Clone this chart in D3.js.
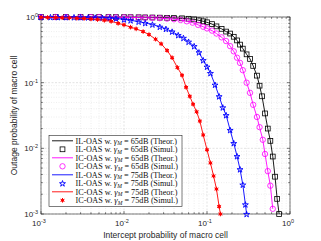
<!DOCTYPE html>
<html>
<head>
<meta charset="utf-8">
<script src="https://cdn.jsdelivr.net/npm/d3@7"></script>
<style>
  body { margin: 0; background: #fff; }
  svg { display: block; }
</style>
</head>
<body>
<div id="chart"></div>
<script>
// values (log-log axes)
var ilx65 = [0.001, 0.0015, 0.002, 0.003, 0.004, 0.005, 0.0065, 0.008, 0.01, 0.012, 0.015, 0.018, 0.022, 0.027, 0.033, 0.04, 0.05, 0.06, 0.07, 0.08, 0.09, 0.1, 0.115, 0.13, 0.15, 0.17, 0.19, 0.21, 0.23, 0.25, 0.27, 0.3, 0.33, 0.36, 0.4, 0.43, 0.46, 0.5, 0.54, 0.58, 0.62, 0.66, 0.7, 0.74];
var ily65 = [1, 1, 0.999, 0.999, 0.998, 0.998, 0.997, 0.996, 0.995, 0.993, 0.99, 0.987, 0.983, 0.978, 0.972, 0.965, 0.955, 0.94, 0.92, 0.89, 0.86, 0.83, 0.78, 0.72, 0.66, 0.6, 0.56, 0.5, 0.44, 0.38, 0.33, 0.27, 0.23, 0.18, 0.128, 0.09, 0.062, 0.034, 0.02, 0.013, 0.0075, 0.0037, 0.0017, 0.001];

var icx65 = [0.001, 0.0015, 0.002, 0.003, 0.004, 0.005, 0.0065, 0.008, 0.01, 0.012, 0.015, 0.018, 0.022, 0.027, 0.033, 0.04, 0.048, 0.057, 0.067, 0.078, 0.09, 0.1, 0.115, 0.13, 0.15, 0.17, 0.19, 0.21, 0.23, 0.25, 0.27, 0.3, 0.33, 0.36, 0.4, 0.43, 0.47, 0.5, 0.54, 0.58, 0.62];
var icy65 = [0.999, 0.999, 0.998, 0.997, 0.996, 0.995, 0.993, 0.99, 0.988, 0.985, 0.98, 0.975, 0.97, 0.96, 0.945, 0.925, 0.9, 0.86, 0.82, 0.76, 0.71, 0.67, 0.62, 0.56, 0.49, 0.43, 0.36, 0.3, 0.24, 0.2, 0.155, 0.1, 0.07, 0.046, 0.03, 0.021, 0.0135, 0.0082, 0.0045, 0.0027, 0.0012];

var ilx75 = [0.001, 0.0013, 0.0016, 0.002, 0.0025, 0.003, 0.0037, 0.0045, 0.0055, 0.0067, 0.008, 0.01, 0.012, 0.015, 0.018, 0.022, 0.027, 0.032, 0.038, 0.045, 0.052, 0.06, 0.07, 0.08, 0.09, 0.1, 0.11, 0.125, 0.14, 0.155, 0.17, 0.19, 0.21, 0.23, 0.25, 0.27, 0.29, 0.3];
var ily75 = [0.998, 0.997, 0.996, 0.995, 0.993, 0.99, 0.985, 0.98, 0.972, 0.962, 0.95, 0.92, 0.89, 0.85, 0.81, 0.77, 0.71, 0.66, 0.6, 0.53, 0.48, 0.42, 0.36, 0.29, 0.22, 0.175, 0.14, 0.093, 0.062, 0.042, 0.032, 0.019, 0.012, 0.0076, 0.0048, 0.0028, 0.0014, 0.001];

var icx75 = [0.001, 0.0012, 0.0015, 0.0018, 0.0022, 0.0027, 0.0033, 0.004, 0.0048, 0.0058, 0.007, 0.0085, 0.01, 0.012, 0.014, 0.017, 0.02, 0.024, 0.028, 0.033, 0.038, 0.044, 0.05, 0.056, 0.062, 0.068, 0.075, 0.082, 0.09, 0.1, 0.11, 0.12, 0.13, 0.14, 0.145];
var icy75 = [0.99, 0.985, 0.98, 0.975, 0.97, 0.96, 0.95, 0.935, 0.915, 0.89, 0.86, 0.8, 0.76, 0.7, 0.66, 0.6, 0.54, 0.46, 0.39, 0.31, 0.24, 0.17, 0.13, 0.085, 0.062, 0.047, 0.036, 0.026, 0.016, 0.0095, 0.006, 0.0038, 0.0024, 0.0013, 0.001];

var decades = [-3, -2, -1, 0];
var legendText = ["IL-OAS w. ", "IL-OAS w. ", "IC-OAS w. ", "IC-OAS w. ", "IL-OAS w. ", "IL-OAS w. ", "IC-OAS w. ", "IC-OAS w. "];
var legendDb = ["65dB (Theor.)", "65dB (Simul.)", "65dB (Theor.)", "65dB (Simul.)", "75dB (Theor.)", "75dB (Simul.)", "75dB (Theor.)", "75dB (Simul.)"];

function pairs(xs, ys) {
    return xs.map(function (d, i) { return { x: d, y: ys[i] }; });
}

var series = [
    { data: pairs(ilx65, ily65), color: "#000000", marker: "square" },
    { data: pairs(icx65, icy65), color: "#ff00ff", marker: "circle" },
    { data: pairs(ilx75, ily75), color: "#0000ff", marker: "star" },
    { data: pairs(icx75, icy75), color: "#ff0000", marker: "asterisk" }
];

var width = 321, height = 241;
var margin = { top: 17, right: 31, bottom: 27, left: 41 };

var svg = d3.select("#chart").append("svg")
    .attr("width", width)
    .attr("height", height);

var x = d3.scaleLog().domain([1e-3, 1]).range([margin.left, width - margin.right]);
var y = d3.scaleLog().domain([1e-3, 1]).range([height - margin.bottom, margin.top]);

var minor = [];
decades.slice(0, 3).forEach(function (e) {
    for (var k = 2; k <= 9; k++) minor.push(k * Math.pow(10, e));
});
var major = decades.map(function (e) { return Math.pow(10, e); });

var grid = svg.append("g");
grid.selectAll(".vminor").data(minor).enter().append("line")
    .attr("x1", function (d) { return x(d); }).attr("x2", function (d) { return x(d); })
    .attr("y1", y(1e-3)).attr("y2", y(1))
    .attr("stroke", "#dcdcdc").attr("stroke-width", 0.5).attr("stroke-dasharray", "1,1.5");
grid.selectAll(".hminor").data(minor).enter().append("line")
    .attr("y1", function (d) { return y(d); }).attr("y2", function (d) { return y(d); })
    .attr("x1", x(1e-3)).attr("x2", x(1))
    .attr("stroke", "#dcdcdc").attr("stroke-width", 0.5).attr("stroke-dasharray", "1,1.5");
grid.selectAll(".vmajor").data(major).enter().append("line")
    .attr("x1", function (d) { return x(d); }).attr("x2", function (d) { return x(d); })
    .attr("y1", y(1e-3)).attr("y2", y(1))
    .attr("stroke", "#d0d0d0").attr("stroke-width", 0.6).attr("stroke-dasharray", "2,1.5");
grid.selectAll(".hmajor").data(major).enter().append("line")
    .attr("y1", function (d) { return y(d); }).attr("y2", function (d) { return y(d); })
    .attr("x1", x(1e-3)).attr("x2", x(1))
    .attr("stroke", "#d0d0d0").attr("stroke-width", 0.6).attr("stroke-dasharray", "2,1.5");

// box and inward ticks
var axisColor = "#262626";
var tk = svg.append("g").attr("stroke", axisColor).attr("stroke-width", 0.6);
major.concat(minor).forEach(function (d) {
    var len = major.indexOf(d) >= 0 ? 3 : 1.8;
    tk.append("line").attr("x1", x(d)).attr("x2", x(d)).attr("y1", y(1e-3)).attr("y2", y(1e-3) - len);
    tk.append("line").attr("x1", x(d)).attr("x2", x(d)).attr("y1", y(1)).attr("y2", y(1) + len);
    tk.append("line").attr("y1", y(d)).attr("y2", y(d)).attr("x1", x(1e-3)).attr("x2", x(1e-3) + len);
    tk.append("line").attr("y1", y(d)).attr("y2", y(d)).attr("x1", x(1)).attr("x2", x(1) - len);
});
svg.append("rect")
    .attr("x", x(1e-3)).attr("y", y(1))
    .attr("width", x(1) - x(1e-3)).attr("height", y(1e-3) - y(1))
    .attr("fill", "none").attr("stroke", axisColor).attr("stroke-width", 0.6);

// tick labels
var tl = svg.append("g").attr("font-family", "Liberation Sans, Arial, sans-serif").attr("fill", axisColor);
decades.forEach(function (e) {
    var t = tl.append("text").attr("x", x(Math.pow(10, e)) - 2).attr("y", y(1e-3) + 12)
        .attr("text-anchor", "middle").attr("font-size", 8);
    t.append("tspan").text("10");
    t.append("tspan").attr("dy", -3).attr("font-size", 5.5).text(e);
    var u = tl.append("text").attr("x", x(1e-3) - 3).attr("y", y(Math.pow(10, e)) + 3)
        .attr("text-anchor", "end").attr("font-size", 8);
    u.append("tspan").text("10");
    u.append("tspan").attr("dy", -3).attr("font-size", 5.5).text(e);
});

svg.append("text")
    .attr("x", (x(1e-3) + x(1)) / 2).attr("y", 238)
    .attr("text-anchor", "middle")
    .attr("font-family", "Liberation Sans, Arial, sans-serif").attr("font-size", 8.5)
    .attr("fill", axisColor)
    .text("Intercept probability of macro cell");
svg.append("text")
    .attr("transform", "translate(17," + ((y(1) + y(1e-3)) / 2) + ") rotate(-90)")
    .attr("text-anchor", "middle")
    .attr("font-family", "Liberation Sans, Arial, sans-serif").attr("font-size", 8.5)
    .attr("fill", axisColor)
    .text("Outage probability of macro cell");

var line = d3.line()
    .x(function (d) { return x(d.x); })
    .y(function (d) { return y(d.y); });

function drawMarker(g, type, color, cx, cy) {
    if (type === "square") {
        g.append("rect").attr("x", cx - 2.4).attr("y", cy - 2.4).attr("width", 4.8).attr("height", 4.8)
            .attr("fill", "none").attr("stroke", color).attr("stroke-width", 0.8);
    } else if (type === "circle") {
        g.append("circle").attr("cx", cx).attr("cy", cy).attr("r", 2.7)
            .attr("fill", "none").attr("stroke", color).attr("stroke-width", 0.8);
    } else if (type === "star") {
        g.append("path").attr("d", d3.symbol().type(d3.symbolStar).size(11)())
            .attr("transform", "translate(" + cx + "," + (cy + 0.4) + ")")
            .attr("fill", "none").attr("stroke", color).attr("stroke-width", 0.9);
    } else {
        g.append("circle").attr("cx", cx).attr("cy", cy).attr("r", 1.5).attr("fill", color);
        [0, 60, 120].forEach(function (a) {
            var r = a * Math.PI / 180, l = 2.3;
            g.append("line")
                .attr("x1", cx - l * Math.sin(r)).attr("y1", cy - l * Math.cos(r))
                .attr("x2", cx + l * Math.sin(r)).attr("y2", cy + l * Math.cos(r))
                .attr("stroke", color).attr("stroke-width", 1);
        });
    }
}

series.forEach(function (s) {
    svg.append("path")
        .datum(s.data)
        .attr("fill", "none")
        .attr("stroke", s.color)
        .attr("stroke-width", 0.9)
        .attr("d", line);
    var g = svg.append("g");
    s.data.forEach(function (d) {
        drawMarker(g, s.marker, s.color, x(d.x), y(d.y));
    });
});

// legend
var lg = svg.append("g");
lg.append("rect").attr("x", 49).attr("y", 135.5).attr("width", 133).attr("height", 71)
    .attr("fill", "#fff").attr("stroke", axisColor).attr("stroke-width", 0.6);
legendText.forEach(function (t, i) {
    var s = series[Math.floor(i / 2)];
    var ry = 140.8 + i * 8.5;
    if (i % 2 === 0) {
        lg.append("line").attr("x1", 52).attr("x2", 73).attr("y1", ry).attr("y2", ry)
            .attr("stroke", s.color).attr("stroke-width", 0.9);
    } else {
        drawMarker(lg, s.marker, s.color, 62.5, ry);
    }
    var txt = lg.append("text").attr("x", 75.5).attr("y", ry + 2.7)
        .attr("font-family", "Liberation Serif, Times New Roman, serif").attr("font-size", 8.2)
        .attr("fill", "#111");
    txt.append("tspan").text(t);
    txt.append("tspan").attr("font-style", "italic").attr("font-size", 8.6).text("\u03B3");
    txt.append("tspan").attr("font-style", "italic").attr("font-size", 5.6).attr("dy", 1.5).text("M");
    txt.append("tspan").attr("dy", -1.5).text(" = " + legendDb[i]);
});
</script>
</body>
</html>
